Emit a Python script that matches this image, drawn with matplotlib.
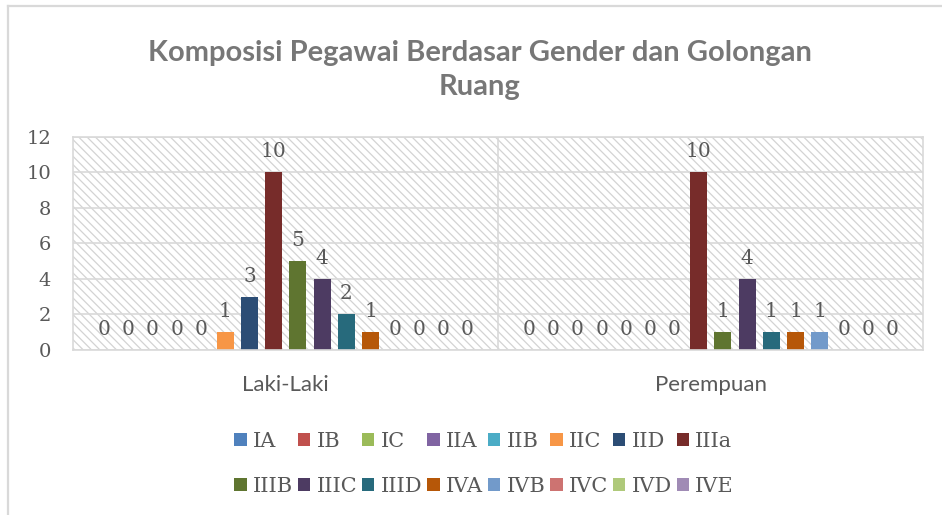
import matplotlib.pyplot as plt
from matplotlib.patches import Rectangle
from matplotlib.lines import Line2D
import numpy as np

categories = ['Laki-Laki', 'Perempuan']
golongan = ['IA', 'IB', 'IC', 'IIA', 'IIB', 'IIC', 'IID', 'IIIa',
            'IIIB', 'IIIC', 'IIID', 'IVA', 'IVB', 'IVC', 'IVD', 'IVE']
laki = [0, 0, 0, 0, 0, 1, 3, 10, 5, 4, 2, 1, 0, 0, 0, 0]
perempuan = [0, 0, 0, 0, 0, 0, 0, 10, 1, 4, 1, 1, 1, 0, 0, 0]
colors = ['#4F81BD', '#C0504D', '#9BBB59', '#8064A2', '#4BACC6', '#F79646',
          '#2C4D75', '#772C2A', '#5F7530', '#4D3B62', '#276A7C', '#B65708',
          '#729ACA', '#CD7371', '#AFC97A', '#A08BB5']

text_gray = '#595959'
line_gray = '#D9D9D9'
plt.rcParams['hatch.color'] = '#D3D3D3'
plt.rcParams['hatch.linewidth'] = 0.9

fig = plt.figure(figsize=(9.42, 5.15), dpi=100)
ax = fig.add_axes([0.0778, 0.3204, 0.9023, 0.4142])

# hatched plot area background
bg = Rectangle((0, 0), 1, 1, transform=ax.transAxes, facecolor='white',
               hatch='\\\\\\\\', linewidth=0, zorder=0.1)
ax.add_patch(bg)

x = np.arange(len(categories))
n = len(golongan)
slot = 0.057
width = 0.04
handles = []
for i, g in enumerate(golongan):
    vals = [laki[i], perempuan[i]]
    bars = ax.bar(x + (i - (n - 1) / 2) * slot, vals, width, color=colors[i],
                  label=g, zorder=2)
    ax.bar_label(bars, padding=8, fontsize=14.5, color=text_gray,
                 family='DejaVu Serif')
    handles.append(bars)

ax.set_xlim(-0.5, 1.5)
ax.set_ylim(0, 12)
ax.set_yticks(range(0, 13, 2))
ax.set_xticks(x)
ax.set_xticklabels(categories, family='Lato', fontsize=16, color=text_gray)
for lbl in ax.get_yticklabels():
    lbl.set_family('DejaVu Serif')
    lbl.set_fontsize(14)
    lbl.set_color(text_gray)
ax.tick_params(axis='y', length=0, pad=16)
ax.tick_params(axis='x', length=0, pad=18)
ax.yaxis.grid(True, color=line_gray, linewidth=1.2, zorder=0.5)
ax.axvline(0.5, color=line_gray, linewidth=1.2, zorder=0.5)
ax.set_axisbelow(True)
for s in ax.spines.values():
    s.set_color(line_gray)
    s.set_linewidth(1.2)

fig.text(0.509, 1 - 95 / 515, 'Komposisi Pegawai Berdasar Gender dan Golongan\nRuang',
         ha='center', va='baseline', family='Lato', fontweight='bold',
         fontsize=21, color='#777777', linespacing=1.4)

# legend filled row by row (matplotlib fills column by column)
order = [j for c in range(8) for j in (c, c + 8)]
fig.legend([handles[j] for j in order], [golongan[j] for j in order],
           loc='center', bbox_to_anchor=(484 / 942, 1 - 464 / 515), ncol=8,
           frameon=False, prop={'family': 'DejaVu Serif', 'size': 15},
           labelcolor=text_gray, handlelength=0.6, handleheight=0.6,
           handletextpad=0.3, columnspacing=0.23, labelspacing=1.25)

# outer chart border (only top and left visible)
fig.add_artist(Line2D([8 / 942, 1], [1 - 5.5 / 515, 1 - 5.5 / 515],
                      transform=fig.transFigure, color=line_gray, linewidth=1.6))
fig.add_artist(Line2D([8 / 942, 8 / 942], [0, 1 - 5.5 / 515],
                      transform=fig.transFigure, color=line_gray, linewidth=1.6))

fig.savefig('out.png', dpi=100)
